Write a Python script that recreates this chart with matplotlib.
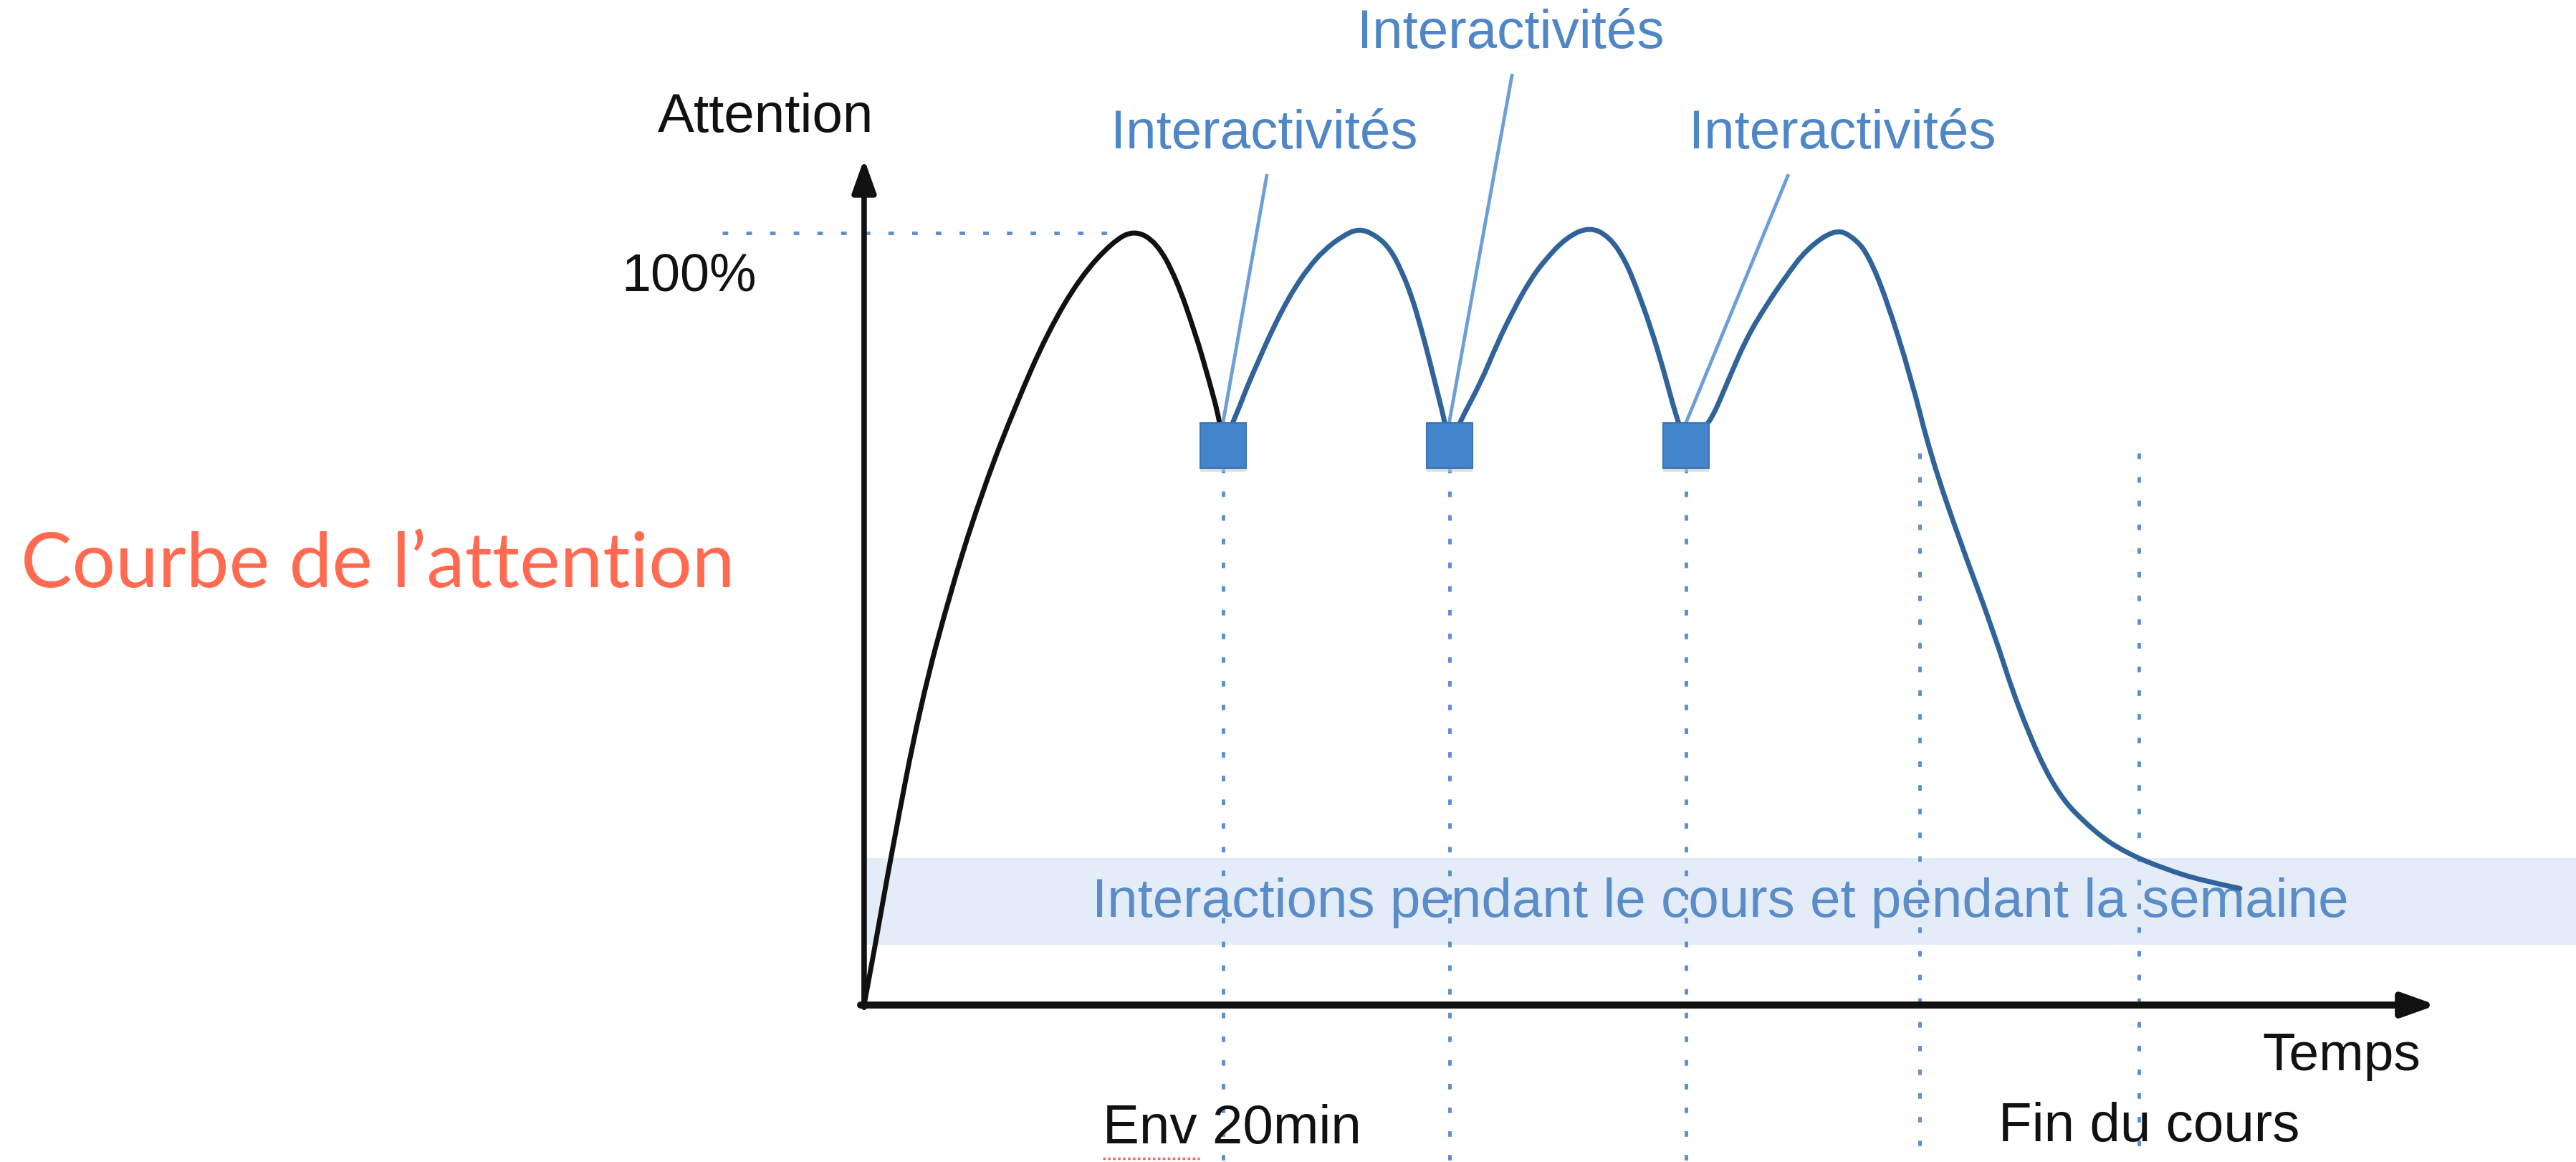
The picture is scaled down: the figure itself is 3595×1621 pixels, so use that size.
import matplotlib
matplotlib.use("Agg")
import matplotlib.pyplot as plt
from matplotlib.patches import Rectangle, PathPatch
from matplotlib.path import Path

# time in minutes (x) and attention in % (y)
arch1_t = [0.0, 0.6, 1.52, 3.11, 4.91, 6.67, 8.46, 10.22, 12.02, 13.81, 15.05,
           16.29, 17.37, 18.44, 19.16, 19.84, 20.0]
arch1_a = [0.0, 7.5, 19.6, 38.7, 54.4, 67.1, 77.8, 87.1, 94.2, 98.8, 100.4,
           98.8, 94.2, 87.1, 81.4, 75.5, 72.5]

arch2_t = [20.0, 20.80, 21.32, 22.00, 22.63, 23.31, 23.99, 24.79, 25.59, 26.63, 27.58,
           28.50, 29.30, 29.98, 30.50, 30.90, 31.30, 31.70, 32.10, 32.30, 32.6]
arch2_a = [72.5, 76.8, 80.0, 83.6, 86.9, 90.1, 92.9, 95.6, 97.7, 99.6, 100.6,
           99.7, 98.0, 94.9, 91.8, 88.7, 85.3, 81.6, 77.9, 76.0, 72.5]

arch3_t = [32.6, 33.2, 34.37, 35.25, 36.17, 37.05, 37.92, 39.16, 40.44, 41.52, 42.40,
           43.11, 43.83, 44.51, 45.23, 45.6, 45.8]
arch3_a = [72.5, 75.6, 80.7, 85.6, 90.0, 93.7, 96.5, 99.5, 100.8, 99.5, 96.5,
           92.4, 87.7, 82.5, 76.3, 74.0, 72.5]

arch4_t = [45.8, 46.5, 47.19, 48.10, 49.14, 50.22, 51.30, 52.53, 54.17, 55.25, 55.97,
           56.93, 58.32, 59.44, 61.12, 62.83, 64.31, 66.31, 68.54, 70.30, 72.5,
           74.57, 76.65]
arch4_a = [72.5, 74.2, 75.7, 80.7, 86.3, 90.5, 94.2, 98.0, 100.6, 99.2, 97.0,
           91.6, 81.3, 71.0, 59.6, 49.0, 38.3, 27.7, 22.4, 19.7, 17.6,
           16.1, 15.1]

# interactivity markers (squares) and the marker lines below them
inter_t = [20.0, 32.6, 45.8]
inter_a = [72.5, 72.5, 72.5]
guide_t = [58.8, 71.0]
guide_top = [71.5, 71.5]

# label texts and their anchor points
label_text = "Interactivités"
label_t = [22.3, 36.0, 54.5]
label_a = [112.8, 125.8, 112.8]
pointer_top_t = [22.43, 36.09, 51.46]
pointer_top_a = [107.4, 120.4, 107.4]

band_low, band_high = 7.8, 19.0
peak_level = 100
x_end, y_end = 87.6, 109.6


def smooth(ts, vals):
    # quadratic b-spline style path: read points act as control points
    verts = [(ts[0], vals[0])]
    codes = [Path.MOVETO]
    n = len(ts)
    for i in range(1, n - 1):
        if i == n - 2:
            nxt = (ts[-1], vals[-1])
        else:
            nxt = ((ts[i] + ts[i + 1]) / 2, (vals[i] + vals[i + 1]) / 2)
        verts += [(ts[i], vals[i]), nxt]
        codes += [Path.CURVE3, Path.CURVE3]
    return Path(verts, codes)


fig = plt.figure(figsize=(35.95, 16.21), dpi=100)
ax = fig.add_axes([0, 0, 1, 1])
ax.set_xlim(-48.14, 95.37)
ax.set_ylim(-20.33, 130.18)
ax.axis("off")

font = "Liberation Sans"
blue_txt = "#4f86c6"
dot_col = "#5b8fd0"
dots = (0, (1.6, 5.2))

# band for the interactions
ax.add_patch(Rectangle((0.1, band_low), 200, band_high - band_low,
                       facecolor="#e4ecf7", edgecolor="none", zorder=1))
ax.text(47.7, 13.2, "Interactions pendant le cours et pendant la semaine",
        fontsize=55, family=font, color="#5a8cc8", ha="center", va="center", zorder=2)

# dotted guides
ax.plot([-7.9, 13.6], [peak_level, peak_level], color=dot_col, lw=3.5, ls=dots, zorder=2)
for t in inter_t:
    ax.plot([t, t], [69.6, -20.5], color=dot_col, lw=3.5, ls=dots, zorder=2)
for t, top in zip(guide_t, guide_top):
    ax.plot([t, t], [top, -20.5], color=dot_col, lw=3.5, ls=dots, zorder=2)

# attention curve
ax.add_patch(PathPatch(smooth(arch1_t, arch1_a), facecolor="none", edgecolor="#111111",
                       lw=5, zorder=4, capstyle="round"))
for ts, vals in [(arch2_t, arch2_a), (arch3_t, arch3_a), (arch4_t, arch4_a)]:
    ax.add_patch(PathPatch(smooth(ts, vals), facecolor="none", edgecolor="#2f6399",
                           lw=5, zorder=4, capstyle="round"))

# pointers from labels to the squares
for t0, a0, t1, a1 in zip(pointer_top_t, pointer_top_a, inter_t, inter_a):
    ax.plot([t0, t1], [a0, a1 + 3], color="#6c9fd8", lw=3.5, zorder=5)

# squares
w, h = 2.55, 5.85
for t, a in zip(inter_t, inter_a):
    ax.add_patch(Rectangle((t - w / 2, a - h / 2 - 0.5), w, h, facecolor="#c8c8c8",
                           edgecolor="none", zorder=5, alpha=0.6))
    ax.add_patch(Rectangle((t - w / 2, a - h / 2), w, h, facecolor="#4285cb",
                           edgecolor="#3a74b4", lw=1.5, zorder=6))

for t, a in zip(label_t, label_a):
    ax.text(t, a, label_text, fontsize=55, family=font, color=blue_txt,
            ha="center", va="center")

# axes with arrows
arrow = dict(arrowstyle="-|>,head_length=0.7,head_width=0.25", color="#111111",
             shrinkA=0, shrinkB=0, mutation_scale=40)
ax.annotate("", xy=(0, y_end), xytext=(0, -0.3), arrowprops=dict(arrow, lw=5.5), zorder=7)
ax.annotate("", xy=(x_end, 0), xytext=(-0.2, 0), arrowprops=dict(arrow, lw=7), zorder=7)

ax.text(-5.49, 114.9, "Attention", fontsize=55, family=font, color="#111111",
        ha="center", va="center")
ax.text(-9.74, 94.3, "100%", fontsize=53, family=font, color="#111111",
        ha="center", va="center")
ax.text(82.3, -6.6, "Temps", fontsize=54, family=font, color="#111111",
        ha="center", va="center")
ax.text(20.5, -16.1, "Env 20min", fontsize=55, family=font, color="#111111",
        ha="center", va="center")
ax.plot([13.3, 18.7], [-19.9, -19.9], color="#ff6060", lw=2.5, ls=(0, (1, 1)))
ax.text(71.6, -15.8, "Fin du cours", fontsize=55, family=font, color="#111111",
        ha="center", va="center")

ax.text(-47.0, 56.9, "Courbe de l\u2019attention", fontsize=77, family="Lato",
        color="#ff6a50", ha="left", va="center")

fig.savefig("out.png", dpi=100)
plt.close(fig)
